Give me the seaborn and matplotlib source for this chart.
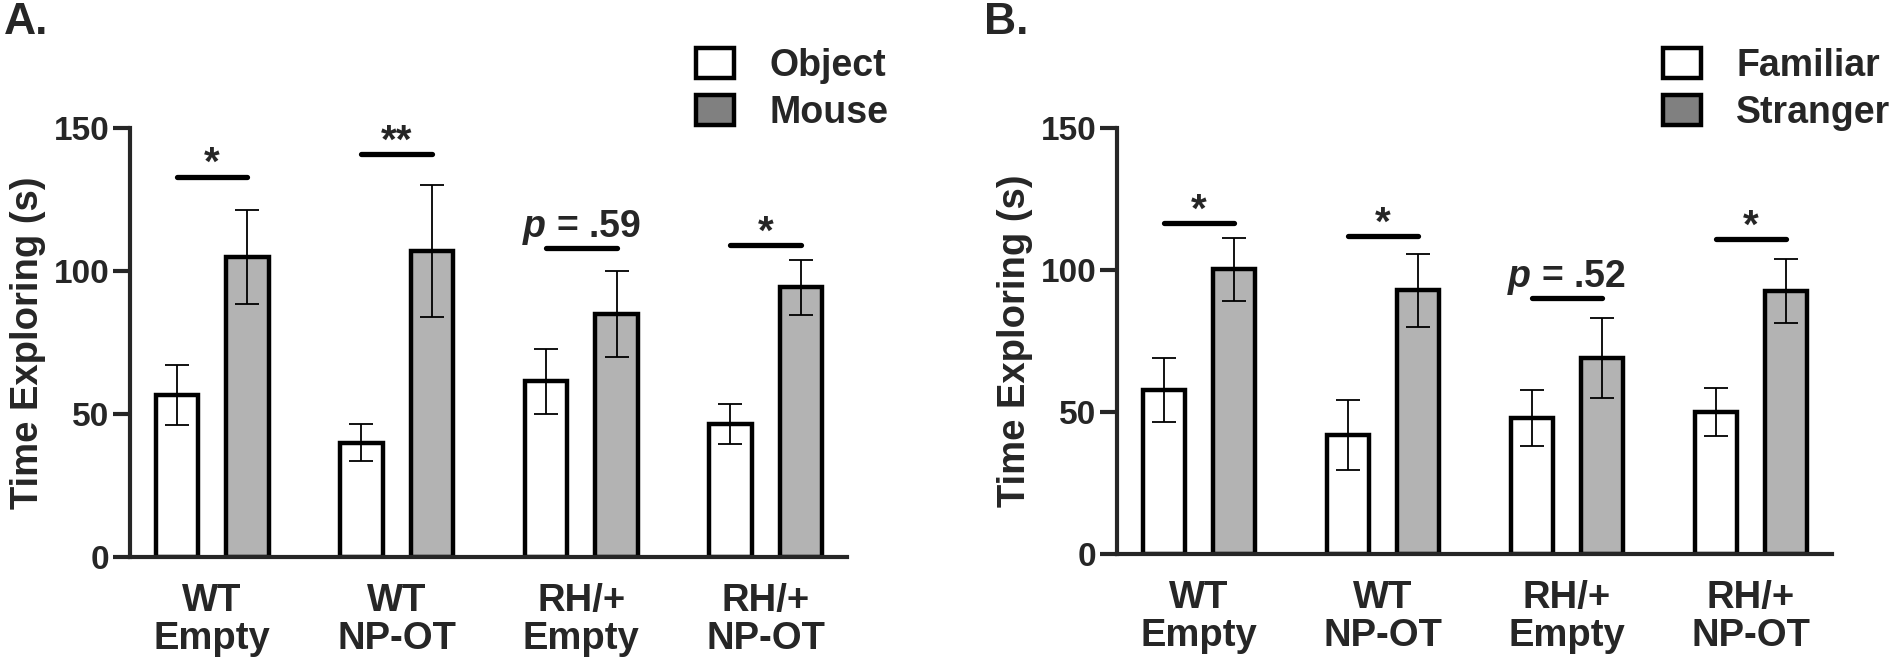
import pandas as pd
import seaborn as sns
import matplotlib.pyplot as plt
from matplotlib.patches import Patch

groups = ['WT\nEmpty', 'WT\nNP-OT', 'RH/+\nEmpty', 'RH/+\nNP-OT']

# panel A
object_mean = [56.5, 40.0, 61.5, 46.5]
object_sem = [10.5, 6.5, 11.4, 6.9]
mouse_mean = [105.0, 107.0, 85.0, 94.3]
mouse_sem = [16.5, 23.2, 15.1, 9.7]
sig_a_y = [133, 141, 108, 109]
sig_a_txt = ['*', '**', '$p$ = .59', '*']

# panel B
familiar_mean = [57.8, 41.8, 48.0, 50.0]
familiar_sem = [11.2, 12.3, 9.8, 8.4]
stranger_mean = [100.2, 92.8, 69.0, 92.5]
stranger_sem = [11.1, 12.7, 14.1, 11.3]
sig_b_y = [116.5, 112, 90, 111]
sig_b_txt = ['*', '*', '$p$ = .52', '*']

sns.set_style('ticks')
plt.rcParams['font.family'] = ['Liberation Sans', 'DejaVu Sans']
plt.rcParams['font.weight'] = 'bold'
plt.rcParams['mathtext.fontset'] = 'custom'
plt.rcParams['mathtext.it'] = 'Liberation Sans:italic:bold'


def panel(ax, names, means, sems, sig_y, sig_txt):
    df = pd.DataFrame({
        'group': groups * 2,
        'stim': [names[0]] * 4 + [names[1]] * 4,
        'time': means[0] + means[1],
    })
    sns.barplot(data=df, x='group', y='time', hue='stim',
                palette=['white', '#b3b3b3'], saturation=1,
                edgecolor='black', linewidth=3.2, width=0.765, gap=0.4,
                errorbar=None, legend=False, ax=ax)
    centers = []
    for cont, m, s in zip(ax.containers, means, sems):
        xs = [b.get_x() + b.get_width() / 2 for b in cont]
        centers.append(xs)
        ax.errorbar(xs, m, yerr=s, fmt='none', ecolor='black',
                    elinewidth=1.3, capsize=8.5, capthick=1.3, zorder=4)
    for i in range(4):
        x0, x1 = centers[0][i], centers[1][i]
        y = sig_y[i]
        ax.plot([x0, x1], [y, y], color='black', lw=3.8,
                solid_capstyle='round', zorder=4)
        if sig_txt[i].startswith('$'):
            ax.text((x0 + x1) / 2, y + 4, sig_txt[i], ha='center',
                    va='baseline', fontsize=27, fontweight='bold')
        else:
            ax.text((x0 + x1) / 2, y + 0.5, sig_txt[i], ha='center',
                    va='baseline', fontsize=29, fontweight='bold')

    ax.set_xlim(-0.445, 3.44)
    ax.set_ylim(0, 150)
    ax.set_yticks([0, 50, 100, 150])
    ax.set_xlabel('')
    ax.set_ylabel('Time Exploring (s)', fontsize=27.5, fontweight='bold')
    ax.yaxis.set_label_coords(-0.117, 0.5)
    sns.despine(ax=ax)
    for sp in ['left', 'bottom']:
        ax.spines[sp].set_linewidth(3)
    ax.tick_params(axis='y', length=12, width=3, pad=3, labelsize=24)
    ax.tick_params(axis='x', length=0, pad=19, labelsize=27.5)
    for lab in ax.get_xticklabels():
        lab.set_linespacing(1.05)
        lab.set_fontweight('bold')
    for lab in ax.get_yticklabels():
        lab.set_fontweight('bold')


fig = plt.figure(figsize=(18.96, 6.62), dpi=100)
ax1 = fig.add_axes([130 / 1896, 0.1586, 717 / 1896, 0.648])
ax2 = fig.add_axes([1117 / 1896, 0.1631, 715 / 1896, 0.6435])

panel(ax1, ['Object', 'Mouse'], [object_mean, mouse_mean],
      [object_sem, mouse_sem], sig_a_y, sig_a_txt)
panel(ax2, ['Familiar', 'Stranger'], [familiar_mean, stranger_mean],
      [familiar_sem, stranger_sem], sig_b_y, sig_b_txt)


def legend_handles():
    return [Patch(facecolor='white', edgecolor='black', lw=3.2),
            Patch(facecolor='#808080', edgecolor='black', lw=3.2)]


for names, x in [(['Object', 'Mouse'], 696 / 1896), (['Familiar', 'Stranger'], 1663 / 1896)]:
    fig.legend(legend_handles(), names, loc='upper left',
               bbox_to_anchor=(x, 1 - 48 / 662), frameon=False,
               prop={'weight': 'bold', 'size': 27}, handlelength=1.0,
               handleheight=0.85, handletextpad=0.95, labelspacing=0.3,
               borderpad=0, borderaxespad=0)

fig.text(4 / 1896, 1 - 2 / 662, 'A.', fontsize=32, fontweight='bold', va='top')
fig.text(984 / 1896, 1 - 2 / 662, 'B.', fontsize=32, fontweight='bold', va='top')

fig.savefig('out.png', dpi=100)
